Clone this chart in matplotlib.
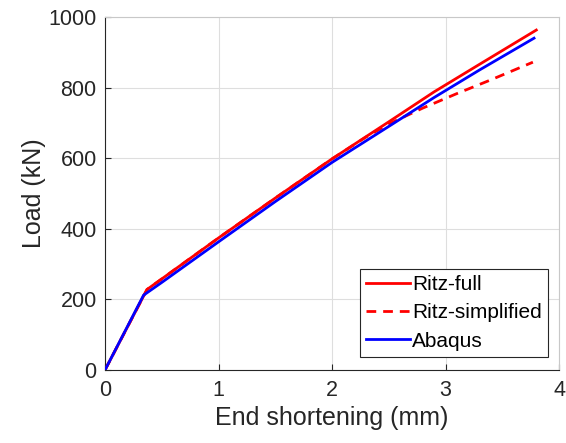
import matplotlib
matplotlib.use("Agg")
import matplotlib.pyplot as plt

# Data
ritz_full_x = [0.0, 0.37, 0.5, 1.0, 1.5, 2.0, 2.5, 2.9, 3.3, 3.8]
ritz_full_y = [0, 228, 258, 374, 487, 598, 703, 788, 866, 963]

ritz_simp_x = [0.0, 0.37, 0.5, 1.0, 1.5, 2.0, 2.3, 2.5, 2.8, 3.1, 3.4, 3.77]
ritz_simp_y = [0, 228, 258, 374, 487, 598, 660, 697, 742, 783, 822, 872]

abaqus_x = [0.0, 0.34, 0.5, 1.0, 1.5, 2.0, 2.5, 2.9, 3.3, 3.78]
abaqus_y = [0, 212, 248, 363, 477, 588, 690, 772, 850, 940]

xticks = [0, 1, 2, 3, 4]
yticks = [0, 200, 400, 600, 800, 1000]

plt.rcParams['font.family'] = ['Liberation Sans', 'DejaVu Sans']
dark = '#262626'

R = 559
fig = plt.figure(figsize=(5.66, 4.43), dpi=100)
ax = fig.add_axes([105/566, 1-370/443, (R-105)/566, (370-17)/443])

ax.plot(ritz_full_x, ritz_full_y, color='#ff0000', lw=2.0, label='Ritz-full', zorder=3)
ax.plot(ritz_simp_x, ritz_simp_y, color='#ff0000', lw=2.0, ls=(0, (3.5, 2.5)), label='Ritz-simplified', zorder=2)
ax.plot(abaqus_x, abaqus_y, color='#0000ff', lw=2.0, label='Abaqus', zorder=4)

ax.set_xlim(0, 4)
ax.set_ylim(0, 1000)
ax.set_xticks(xticks)
ax.set_yticks(yticks)
ax.grid(True, color='#dedede', lw=0.8)
ax.set_axisbelow(True)

ax.tick_params(direction='in', length=4, width=0.8, colors=dark, labelsize=15.5,
               labelcolor=dark, pad=6)
ax.tick_params(axis='x', pad=7)
ax.spines['left'].set_color(dark)
ax.spines['bottom'].set_color(dark)
ax.spines['top'].set_color('#c8c8c8')
ax.spines['right'].set_color('#c8c8c8')
for s in ax.spines.values():
    s.set_linewidth(0.8)

ax.set_xlabel('End shortening (mm)', fontsize=18, color=dark, labelpad=4)
ax.set_ylabel('Load (kN)', fontsize=18, color=dark, labelpad=2)

leg = ax.legend(loc='lower right', bbox_to_anchor=((548-105)/(R-105), 13/353), borderaxespad=0,
                fontsize=15, fancybox=False, framealpha=1, edgecolor=dark,
                handlelength=2.1, handletextpad=0.12, labelspacing=0.45,
                borderpad=0.3)
leg.get_frame().set_linewidth(0.8)
for t in leg.get_texts():
    t.set_color('#000000')

fig.savefig('out.png', dpi=100)
